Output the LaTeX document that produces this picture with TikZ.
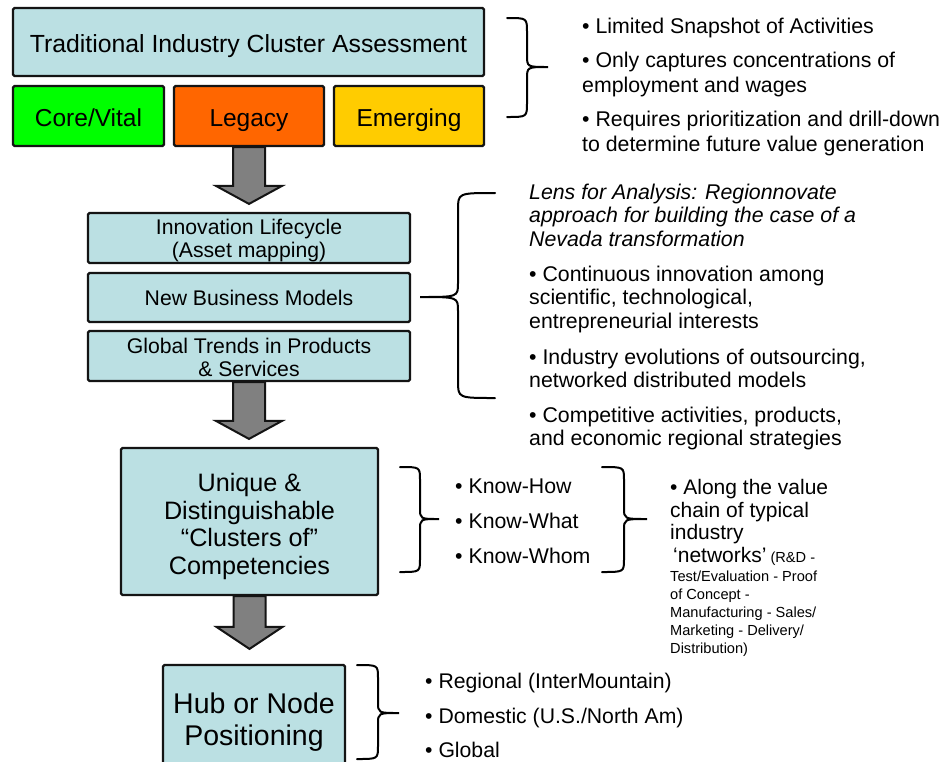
\documentclass[tikz,border=0pt]{standalone}
\usepackage{fontspec}
\setmainfont{Liberation Sans}
\usetikzlibrary{calc}
\definecolor{boxblue}{RGB}{187,224,227}
\definecolor{coregreen}{RGB}{0,255,0}
\definecolor{legacyorange}{RGB}{255,102,0}
\definecolor{emergyellow}{RGB}{255,204,0}
\definecolor{arrowgray}{RGB}{128,128,128}
\definecolor{edgecol}{RGB}{20,20,20}
\newcommand\fs[2]{\fontsize{#1}{#2}\selectfont}
\newcommand\lift[1]{\rule{0pt}{#1pt}}
% brace: x1 (open end), xm (spine), x2 (tip), ytop, ytip, ybot, end curl, tip curl
\newcommand\bracer[8]{\draw[bracestyle] (#1,#4) .. controls (#2,#4) .. (#2,{#4+#7}) -- (#2,{#5-#8}) .. controls (#2,#5) .. (#3,#5) .. controls (#2,#5) .. (#2,{#5+#8}) -- (#2,{#6-#7}) .. controls (#2,#6) .. (#1,#6);}
% block arrow from node #1 to node #2, gap #3, head length #4
\newcommand\blockarrow[4]{\draw[blockarrowstyle]
 ($(#1.south)+(-16pt,0pt)$) -- ($(#1.south |- #2.north)+(-16pt,#3pt+#4pt)$)
 -- ($(#1.south |- #2.north)+(-33pt,#3pt+#4pt)$) -- ($(#1.south |- #2.north)+(0pt,#3pt)$)
 -- ($(#1.south |- #2.north)+(33pt,#3pt+#4pt)$) -- ($(#1.south |- #2.north)+(16pt,#3pt+#4pt)$)
 -- ($(#1.south)+(16pt,0pt)$) -- cycle;}
\begin{document}
\begin{tikzpicture}[x=1pt,y=-1pt,
  box/.style={draw=edgecol, line width=2.2pt, rounded corners=1.5pt, fill=boxblue, inner sep=0pt, align=center},
  oneline/.style={text height=20pt, text depth=0pt},
  para/.style={anchor=north west, inner sep=0pt, align=left},
  bracestyle/.style={draw=black, line width=2pt, line cap=round},
  blockarrowstyle/.style={draw=edgecol, line width=2pt, fill=arrowgray, line join=miter}]
\clip (0,0) rectangle (949,761);
\fill[white] (0,0) rectangle (949,761);

% left column boxes
\node[box, oneline, minimum width=471pt, minimum height=68pt, font=\fs{24.8}{28}] (tica) at (248.5,42) {Traditional Industry Cluster Assessment};
\node[box, oneline, fill=coregreen, minimum width=151pt, minimum height=60pt, font=\fs{24.5}{28}] (core) at (88.5,116) {Core/Vital};
\node[box, oneline, fill=legacyorange, minimum width=150pt, minimum height=60pt, font=\fs{24.5}{28}] (legacy) at (249,116) {Legacy};
\node[box, oneline, fill=emergyellow, minimum width=150pt, minimum height=60pt, font=\fs{24.5}{28}] (emerg) at (409,116) {Emerging};

\node[box, minimum width=322pt, minimum height=50pt, font=\fs{21.2}{23}] (innov) at (249,238) {\lift{21}Innovation Lifecycle\\(Asset mapping)};
\node[box, minimum width=322pt, minimum height=49pt, font=\fs{21.2}{23}] (nbm) at (249,297.5) {New Business Models};
\node[box, minimum width=322pt, minimum height=50pt, font=\fs{21.2}{23}] (glob) at (249,356) {\lift{19}Global Trends in Products\\\& Services};

\node[box, minimum width=257pt, minimum height=147pt, font=\fs{25.2}{27.5}] (uniq) at (249.5,521.5) {\lift{28}Unique \&\\Distinguishable\\“Clusters of”\\Competencies};
\node[box, minimum width=182pt, minimum height=110pt, font=\fs{28.5}{32}] (hub) at (254,720) {\lift{25}Hub or Node\\Positioning};

% block arrows
\blockarrow{legacy}{innov}{8}{18}
\blockarrow{glob}{uniq}{8}{18}
\blockarrow{uniq}{hub}{15}{22}

% braces
\bracer{507}{527}{548}{18}{67}{117}{14}{12}
\bracer{495}{458}{420}{193}{297}{398}{17}{14}
\bracer{400}{420}{439}{467}{519}{572}{13}{11}
\bracer{602}{624}{647}{467}{519}{572}{13}{11}
\bracer{357}{378}{399}{665}{713}{759}{13}{11}

% top right text
\node[para, font=\fs{21.3}{25}] (lim) at (582,15.9) {\strut• Limited Snapshot of Activities};
\node[para, font=\fs{21.3}{25}] (only) at (582,49.9) {\strut• Only captures concentrations of\\\strut employment and wages};
\node[para, font=\fs{21.3}{25}] (req) at (582,108.9) {\strut• Requires prioritization and drill-down\\\strut to determine future value generation};

% middle right text
\node[para, font=\fs{21.3}{23.5}\itshape] (lens) at (529,182.7) {\strut Lens for Analysis: Regionnovate\\\strut approach for building the case of a\\\strut Nevada transformation};
\node[para, font=\fs{21.3}{23.5}] (cont) at (529,264.7) {\strut• Continuous innovation among\\\strut scientific, technological,\\\strut entrepreneurial interests};
\node[para, font=\fs{21.3}{23.5}] (indev) at (529,347.7) {\strut• Industry evolutions of outsourcing,\\\strut networked distributed models};
\node[para, font=\fs{21.3}{23.5}] (comp) at (529,405.7) {\strut• Competitive activities, products,\\\strut and economic regional strategies};

% know items
\node[para, font=\fs{21.3}{35}] (know) at (455,468.9) {\strut• Know-How\\\strut• Know-What\\\strut• Know-Whom};

% value chain text
\node[para, font=\fs{21}{21.7}] (along) at (670,479.1) {\strut• Along the value\\\strut chain of typical\\\strut industry\\\strut\kern3pt‘networks’\kern4pt{\fs{14.6}{17}(R\&D -}};
\node[para, font=\fs{14.6}{18}] (alongs) at (670,568.8) {\strut Test/Evaluation - Proof\\\strut of Concept -\\\strut Manufacturing - Sales/\\\strut Marketing - Delivery/\\\strut Distribution)};

% hub items
\node[para, font=\fs{21.2}{34.5}] (hubitems) at (425,664.5) {\strut• Regional (InterMountain)\\\strut• Domestic (U.S./North Am)\\\strut• Global};
\end{tikzpicture}
\end{document}
